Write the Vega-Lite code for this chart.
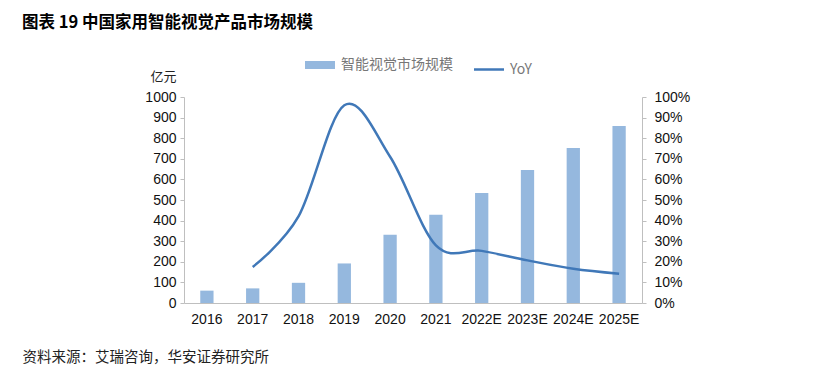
{
  "$schema": "https://vega.github.io/schema/vega-lite/v6.json",
  "autosize": "none",
  "width": 458,
  "height": 206,
  "padding": {"left": 184, "top": 97, "right": 188, "bottom": 64},
  "background": "white",
  "title": {
    "text": "图表 19 中国家用智能视觉产品市场规模",
    "anchor": "start",
    "frame": "group",
    "dx": -162,
    "dy": -27,
    "offset": 0,
    "font": "Noto Sans CJK SC",
    "fontSize": 16.5,
    "fontWeight": "bold",
    "color": "#000000"
  },
  "config": {
    "view": {"stroke": null},
    "axis": {
      "labelFont": "Liberation Sans",
      "labelFontSize": 14,
      "labelColor": "#111111",
      "domainColor": "#BFBFBF",
      "tickColor": "#BFBFBF",
      "grid": false
    }
  },
  "data": {
    "values": [
      {"year": "2016", "size": 60, "yoy": null},
      {"year": "2017", "size": 71, "yoy": 0.175},
      {"year": "2018", "size": 98, "yoy": 0.42},
      {"year": "2019", "size": 192, "yoy": 0.96},
      {"year": "2020", "size": 331, "yoy": 0.71},
      {"year": "2021", "size": 428, "yoy": 0.28},
      {"year": "2022E", "size": 534, "yoy": 0.253},
      {"year": "2023E", "size": 646, "yoy": 0.207},
      {"year": "2024E", "size": 752, "yoy": 0.166},
      {"year": "2025E", "size": 859, "yoy": 0.142}
    ]
  },
  "encoding": {
    "x": {
      "field": "year",
      "type": "nominal",
      "sort": null,
      "scale": {"paddingInner": 0.71, "paddingOuter": 0.355},
      "axis": {
        "labelAngle": 0,
        "ticks": false,
        "labelPadding": 9,
        "title": "资料来源：艾瑞咨询，华安证券研究所",
        "titleX": -162,
        "titleY": 54,
        "titleAlign": "left",
        "titleBaseline": "middle",
        "titleFont": "Noto Sans CJK SC",
        "titleFontSize": 14.5,
        "titleFontWeight": "normal",
        "titleColor": "#222222"
      }
    }
  },
  "layer": [
    {
      "mark": {"type": "bar"},
      "encoding": {
        "y": {
          "field": "size",
          "type": "quantitative",
          "scale": {"domain": [0, 1000], "nice": false},
          "axis": {
            "orient": "left",
            "format": "d",
            "values": [0, 100, 200, 300, 400, 500, 600, 700, 800, 900, 1000],
            "tickSize": 4,
            "labelPadding": 4,
            "title": "亿元",
            "titleAngle": 0,
            "titleX": -21,
            "titleY": -21,
            "titleAlign": "center",
            "titleBaseline": "middle",
            "titleFont": "Noto Sans CJK SC",
            "titleFontSize": 13,
            "titleFontWeight": "normal",
            "titleColor": "#222222"
          }
        },
        "color": {
          "datum": "智能视觉市场规模",
          "scale": {"domain": ["智能视觉市场规模", "YoY"], "range": ["#95B8DE", "#4078B8"]},
          "legend": {
            "orient": "none",
            "legendX": 129,
            "legendY": -39,
            "direction": "horizontal",
            "title": null,
            "symbolType": "stroke",
            "symbolSize": 900,
            "labelFont": "Noto Sans CJK SC",
            "labelFontSize": 14,
            "labelColor": "#777777",
            "labelOffset": 14,
            "columnPadding": 16,
            "encode": {
              "symbols": {
                "update": {
                  "stroke": {"signal": "scale('color', datum.value)"},
                  "strokeWidth": {"signal": "datum.value === 'YoY' ? 2.5 : 8"}
                }
              }
            }
          }
        }
      }
    },
    {
      "transform": [{"filter": "datum.yoy != null"}],
      "mark": {"type": "line", "interpolate": "cardinal", "strokeWidth": 2.5},
      "encoding": {
        "y": {
          "field": "yoy",
          "type": "quantitative",
          "scale": {"domain": [0, 1], "nice": false},
          "axis": {
            "orient": "right",
            "format": ".0%",
            "values": [0, 0.1, 0.2, 0.3, 0.4, 0.5, 0.6, 0.7, 0.8, 0.9, 1],
            "tickSize": 4,
            "labelPadding": 8,
            "title": null
          }
        },
        "color": {"datum": "YoY"}
      }
    }
  ],
  "resolve": {"scale": {"y": "independent"}}
}
